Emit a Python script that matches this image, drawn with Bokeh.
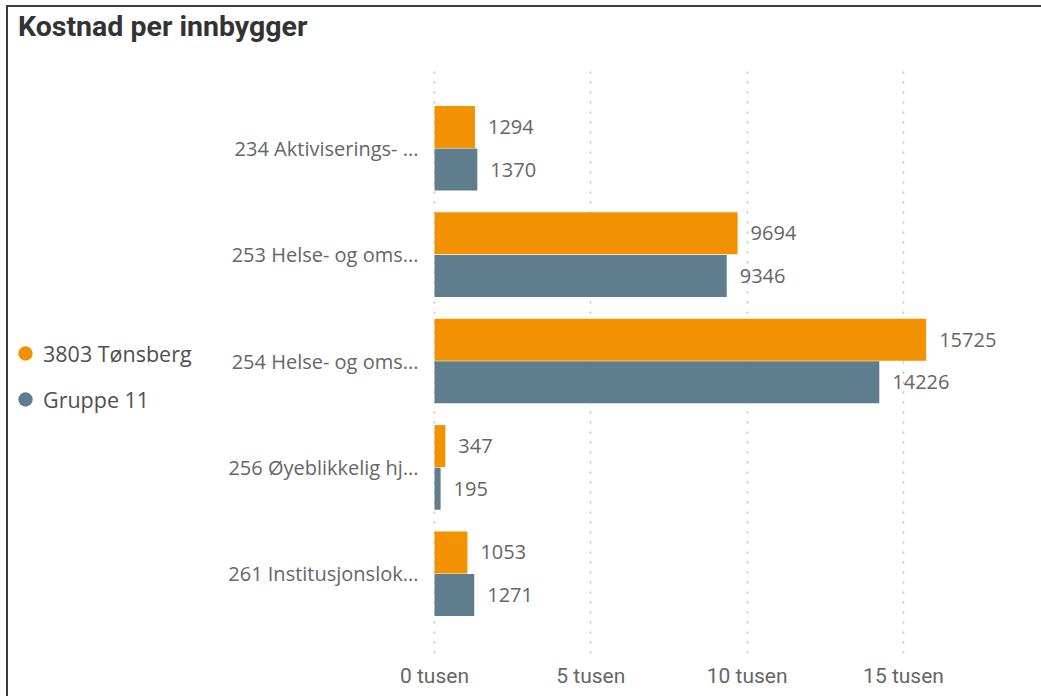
from bokeh.plotting import figure
from bokeh.layouts import column
from bokeh.models import (FactorRange, Range1d, ColumnDataSource, FixedTicker, Legend, LegendItem, Div)
from bokeh.transform import dodge
from bokeh.core.properties import value
from bokeh.embed import file_html
from bokeh.resources import INLINE

title_text = "Kostnad per innbygger"
categories = ["234 Aktiviserings- ...", "253 Helse- og oms...", "254 Helse- og oms...",
              "256 Øyeblikkelig hj...", "261 Institusjonslok..."]
tonsberg = [1294, 9694, 15725, 347, 1053]
gruppe11 = [1370, 9346, 14226, 195, 1271]
series_names = ["3803 Tønsberg", "Gruppe 11"]
tick_values = [0, 5000, 10000, 15000]
tick_labels = ["0 tusen", "5 tusen", "10 tusen", "15 tusen"]

ORANGE = "#F39200"
SLATE = "#607D8E"
TXT = "#666666"

src = ColumnDataSource(dict(cat=categories, a=tonsberg, b=gruppe11,
                            la=[str(v) for v in tonsberg], lb=[str(v) for v in gruppe11]))

yr = FactorRange(factors=list(reversed(categories)), range_padding=0.25, range_padding_units="absolute")

title_div = Div(text=title_text, width=1035, height=61, margin=0,
                styles={"font-family": "Roboto", "font-weight": "bold", "font-size": "28.5px",
                        "color": "#333333", "padding-left": "10px", "padding-top": "0px",
                        "box-sizing": "border-box", "white-space": "nowrap"})

p = figure(width=1035, height=629, y_range=yr, x_range=Range1d(-13625, 18838),
           output_backend="svg", toolbar_location=None,
           min_border_left=0, min_border_right=20, min_border_top=0, min_border_bottom=44)
p.outline_line_color = None
p.background_fill_color = "white"
p.border_fill_color = "white"

ra = p.hbar(y=dodge("cat", 0.2, range=yr), right="a", left=0, height=0.395, source=src,
            fill_color=ORANGE, line_color=None)
rb = p.hbar(y=dodge("cat", -0.2, range=yr), right="b", left=0, height=0.395, source=src,
            fill_color=SLATE, line_color=None)

p.text(x="a", y=dodge("cat", 0.2, range=yr), text="la", source=src, x_offset=13,
       text_baseline="middle", text_align="left", text_font=value("Open Sans"),
       text_font_size="20px", text_color=TXT)
p.text(x="b", y=dodge("cat", -0.2, range=yr), text="lb", source=src, x_offset=13,
       text_baseline="middle", text_align="left", text_font=value("Open Sans"),
       text_font_size="20px", text_color=TXT)

# legend markers (no visible data point)
nan = float("nan")
la = p.scatter(x=[nan], y=[categories[0]], size=16, fill_color=ORANGE, line_color=None)
lb = p.scatter(x=[nan], y=[categories[0]], size=16, fill_color=SLATE, line_color=None)
legend = Legend(items=[LegendItem(label=series_names[0], renderers=[la]),
                       LegendItem(label=series_names[1], renderers=[lb])],
                location=(-1, 234), orientation="vertical")
legend.border_line_color = None
legend.background_fill_alpha = 0
legend.margin = 0
legend.padding = 0
legend.glyph_width = 36
legend.glyph_height = 40
legend.label_height = 40
legend.spacing = 6
legend.label_standoff = 0
legend.label_text_font = "Open Sans"
legend.label_text_font_size = "21.5px"
legend.label_text_color = "#505050"
p.add_layout(legend, "center")

p.xaxis.ticker = FixedTicker(ticks=tick_values)
p.xaxis.major_label_overrides = {v: l for v, l in zip(tick_values, tick_labels)}
p.xaxis.axis_line_color = None
p.xaxis.major_tick_line_color = None
p.xaxis.minor_tick_line_color = None
p.xaxis.major_label_text_font = "Roboto"
p.xaxis.major_label_text_font_size = "21px"
p.xaxis.major_label_text_color = TXT
p.xaxis.major_label_standoff = 4

p.yaxis.fixed_location = 0
p.yaxis.axis_line_color = None
p.yaxis.major_tick_line_color = None
p.yaxis.minor_tick_line_color = None
p.yaxis.major_label_text_font = "Open Sans"
p.yaxis.major_label_text_font_size = "20px"
p.yaxis.major_label_text_color = TXT
p.yaxis.major_label_standoff = 10

p.ygrid.grid_line_color = None
p.xgrid.grid_line_color = "#BDBDBD"
p.xgrid.grid_line_dash = "2 8"
p.xgrid.grid_line_width = 1.5

layout = column(title_div, p, spacing=0,
                styles={"border-top": "2px solid #3a3a3a", "border-left": "2px solid #3a3a3a",
                        "margin-left": "6px", "margin-top": "5px", "background-color": "white"})

open("out.html", "w").write(file_html(layout, INLINE))
